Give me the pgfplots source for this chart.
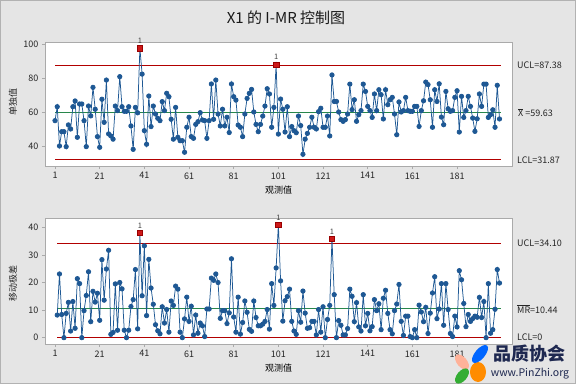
\documentclass[border=0pt]{standalone}
\usepackage{pgfplots}
\pgfplotsset{compat=1.18}
\usepackage{pgfplotstable}
\usepackage{fontspec}
\setmainfont{Noto Sans CJK SC}
\definecolor{bg}{RGB}{229,229,229}
\definecolor{framec}{RGB}{170,170,170}
\definecolor{serc}{RGB}{30,88,148}
\definecolor{ctrgreen}{RGB}{40,135,75}
\definecolor{outc}{RGB}{205,25,25}
\definecolor{wm}{RGB}{30,40,80}

\pgfplotstableread{
x y
1 54.9
2 63.1
3 40.0
4 48.4
5 48.4
6 39.6
7 52.4
8 50.0
9 63.1
10 66.5
11 45.1
12 64.7
13 64.7
14 54.9
15 39.6
16 63.5
17 57.7
18 74.5
19 61.6
20 45.5
21 39.2
22 67.5
23 53.9
24 78.8
25 47.1
26 45.9
27 44.0
28 63.5
29 60.8
30 80.8
31 63.1
32 60.4
33 60.4
34 63.1
35 51.8
36 38.0
37 62.7
38 59.5
39 97.5
40 82.3
41 49.0
42 41.0
43 69.4
44 51.4
45 63.5
46 58.8
47 56.3
48 54.9
49 66.1
50 60.8
51 71.0
52 69.0
53 55.7
54 44.0
55 62.7
56 45.1
57 43.1
58 43.1
59 36.3
60 51.0
61 56.9
62 45.5
63 44.5
64 52.7
65 54.3
66 59.6
67 55.3
68 54.9
69 44.5
70 54.9
71 76.5
72 55.7
73 78.8
74 58.8
75 51.8
76 61.6
77 51.8
78 56.9
79 47.9
80 76.5
81 69.0
82 67.0
83 52.3
84 51.0
85 45.5
86 58.8
87 68.0
88 71.0
89 73.3
90 60.0
91 52.7
92 48.4
93 52.7
94 57.6
95 63.5
96 73.7
97 70.6
98 51.0
99 62.7
100 88.0
101 47.0
102 67.6
103 61.6
104 48.2
105 63.1
106 45.5
107 51.4
108 49.0
109 47.8
110 57.6
111 52.0
112 35.1
113 44.0
114 47.4
115 51.0
116 56.9
117 51.0
118 50.0
119 60.2
120 62.2
121 51.0
122 51.0
123 57.6
124 45.9
125 81.8
126 66.2
127 66.2
128 60.0
129 55.5
130 54.5
131 55.5
132 58.8
133 76.4
134 61.4
135 67.2
136 54.5
137 58.4
138 60.8
139 76.4
140 72.1
141 63.3
142 60.8
143 56.8
144 70.6
145 60.8
146 73.1
147 70.2
148 55.9
149 73.1
150 64.3
151 67.2
152 68.6
153 58.8
154 46.6
155 65.9
156 60.0
157 60.8
158 68.6
159 60.8
160 60.4
161 60.4
162 63.3
163 63.3
164 51.5
165 60.8
166 66.6
167 77.6
168 76.1
169 67.2
170 51.0
171 73.1
172 66.2
173 76.6
174 57.0
175 52.5
176 72.1
177 61.9
178 60.4
179 60.8
180 68.6
181 72.5
182 48.2
183 69.2
184 56.8
185 60.8
186 69.2
187 63.3
188 56.4
189 48.6
190 56.0
191 70.6
192 63.3
193 76.4
194 76.4
195 56.8
196 58.4
197 61.3
198 51.0
199 75.7
200 55.9
}\idata

\pgfplotstableread{
x y
2 8.2
3 23.1
4 8.4
5 0.0
6 8.8
7 12.8
8 2.4
9 13.1
10 3.4
11 21.4
12 19.6
13 0.0
14 9.8
15 15.3
16 23.9
17 5.8
18 16.8
19 12.9
20 16.1
21 6.3
22 28.3
23 13.6
24 24.9
25 31.7
26 1.2
27 1.9
28 19.5
29 2.7
30 20.0
31 17.7
32 2.7
33 0.0
34 2.7
35 11.3
36 13.8
37 24.7
38 3.2
39 38.0
40 15.2
41 33.3
42 8.0
43 28.4
44 18.0
45 12.1
46 4.7
47 2.5
48 1.4
49 11.2
50 5.3
51 10.2
52 2.0
53 13.3
54 11.7
55 18.7
56 17.6
57 2.0
58 0.0
59 6.8
60 14.7
61 5.9
62 11.4
63 1.0
64 8.2
65 1.6
66 5.3
67 4.3
68 0.4
69 10.4
70 10.4
71 21.6
72 20.8
73 23.1
74 20.0
75 7.0
76 9.8
77 9.8
78 5.1
79 9.0
80 28.6
81 7.5
82 2.0
83 14.7
84 1.3
85 5.5
86 13.3
87 9.2
88 3.0
89 2.3
90 13.3
91 7.3
92 4.3
93 4.3
94 4.9
95 5.9
96 10.2
97 3.1
98 19.6
99 11.7
100 25.3
101 41.0
102 20.6
103 6.0
104 13.4
105 14.9
106 17.6
107 5.9
108 2.4
109 1.2
110 9.8
111 5.6
112 16.9
113 8.9
114 3.4
115 3.6
116 5.9
117 5.9
118 1.0
119 10.2
120 2.0
121 11.2
122 0.0
123 6.6
124 11.7
125 35.9
126 15.6
127 0.0
128 6.2
129 4.5
130 1.0
131 1.0
132 3.3
133 17.6
134 15.0
135 5.8
136 12.7
137 3.9
138 2.4
139 15.6
140 4.3
141 8.8
142 2.5
143 4.0
144 13.8
145 9.8
146 12.3
147 2.9
148 14.3
149 17.2
150 8.8
151 2.9
152 1.4
153 9.8
154 12.2
155 19.3
156 5.9
157 0.8
158 7.8
159 7.8
160 0.4
161 0.0
162 2.9
163 0.0
164 11.8
165 9.3
166 5.8
167 11.0
168 1.5
169 8.9
170 16.2
171 22.1
172 6.9
173 10.4
174 19.6
175 4.5
176 19.6
177 10.2
178 1.5
179 0.4
180 7.8
181 3.9
182 24.3
183 21.0
184 12.4
185 4.0
186 8.4
187 5.9
188 6.9
189 7.8
190 7.4
191 14.6
192 7.3
193 13.1
194 0.0
195 19.6
196 1.6
197 2.9
198 10.3
199 24.7
200 19.8
}\mrdata

\tikzset{rlab/.style={anchor=west, font=\fontsize{9}{10}\selectfont, text=black!85, inner sep=0pt}}
\pgfplotsset{
  imr/.style={
    scale only axis,
    anchor=south west,
    width=467pt,
    xmin=-3.48, xmax=205.6,
    axis background/.style={fill=white},
    axis line style={framec, line width=0.8pt},
    tick style={framec, line width=0.6pt},
    major tick length=3pt,
    tick align=outside,
    xtick pos=lower, ytick pos=left,
    xtick={1,21,...,181},
    ticklabel style={font=\fontsize{9}{10}\selectfont, text=black!85},
    /pgf/number format/assume math mode=true,
    xlabel={观测值},
    xlabel style={font=\fontsize{9}{10}\selectfont, at={(axis description cs:0.5,0)}, anchor=center, yshift=-24pt},
    clip=false,
  },
  serline/.style={color=serc, line width=0.75pt, mark=*, mark size=2.2pt, mark options={fill=serc, draw=serc}},
  outp/.style={only marks, mark=square*, mark size=2.7pt, mark options={fill=outc, draw=red!60!black},
    nodes near coords={1}, every node near coord/.style={font=\fontsize{7.5}{8}\selectfont, text=black!75, yshift=1pt}},
}

\begin{document}
\begin{tikzpicture}
\fill[bg] (0pt,0pt) rectangle (576pt,384pt);
\draw[black!30, line width=0.8pt] (0.4pt,0.4pt) rectangle (575.6pt,383.6pt);
\node[font=\fontsize{15}{18}\selectfont, text=black!90] at (286pt,366pt) {X1 的 I-MR 控制图};

\begin{axis}[imr, at={(45pt,218pt)}, height=124pt,
  ymin=28.2, ymax=101.2, ytick={40,60,80,100}]
  \addplot[red!70!black, line width=1.0pt, mark=none] coordinates {(1,87.38) (200.5,87.38)};
  \addplot[red!70!black, line width=1.0pt, mark=none] coordinates {(1,31.87) (200.5,31.87)};
  \addplot[ctrgreen, line width=0.9pt, mark=none] coordinates {(1,59.63) (200.5,59.63)};
  \addplot[serline] table[x=x,y=y] {\idata};
  \addplot[outp] coordinates {(39,97.5) (100,88.0)};
  \node[rlab, xshift=5pt] at (axis cs:205.6,87.38) {UCL=87.38};
  \node[rlab, xshift=6pt] at (axis cs:205.6,59.63) {$\overline{\hbox{X}}$ =59.63};
  \node[rlab, xshift=5pt] at (axis cs:205.6,31.87) {LCL=31.87};
\end{axis}

\begin{axis}[imr, at={(45pt,40pt)}, height=126pt,
  ymin=-2.3, ymax=43.4, ytick={0,10,20,30,40}]
  \addplot[red!70!black, line width=1.0pt, mark=none] coordinates {(2,34.10) (200.5,34.10)};
  \addplot[red!70!black, line width=1.0pt, mark=none] coordinates {(2,0) (200.5,0)};
  \addplot[ctrgreen, line width=0.9pt, mark=none] coordinates {(2,10.44) (200.5,10.44)};
  \addplot[serline] table[x=x,y=y] {\mrdata};
  \addplot[outp] coordinates {(39,38.0) (101,41.0) (125,35.9)};
  \node[rlab, xshift=5pt] at (axis cs:205.6,34.10) {UCL=34.10};
  \node[rlab, xshift=5pt] at (axis cs:205.6,10.44) {$\overline{\hbox{MR}}$=10.44};
  \node[rlab, xshift=5pt] at (axis cs:205.6,0) {LCL=0};
\end{axis}

\node[rotate=90, font=\fontsize{9}{10}\selectfont, text=black!85] at (13pt,282pt) {单独值};
\node[rotate=90, font=\fontsize{9}{10}\selectfont, text=black!85] at (13pt,101pt) {移动极差};

% watermark
\fill[pink!80!orange, rotate around={40:(462pt,22pt)}] (462pt,22pt) ellipse (5pt and 9pt);
\fill[green!60!black!80, rotate around={-40:(462pt,8pt)}] (462pt,8pt) ellipse (5pt and 9pt);
\fill[orange!90!yellow] (478pt,12pt) ellipse (8pt and 10pt);
\fill[blue!60!cyan, rotate around={-40:(480pt,30pt)}] (480pt,30pt) ellipse (5pt and 11pt);
\node[font=\fontsize{18}{20}\bfseries, text=wm] at (529pt,30pt) {品质协会};
\node[font=\fontsize{10.5}{12}\selectfont, text=wm] at (530pt,10pt) {www.PinZhi.org};
\end{tikzpicture}
\end{document}
